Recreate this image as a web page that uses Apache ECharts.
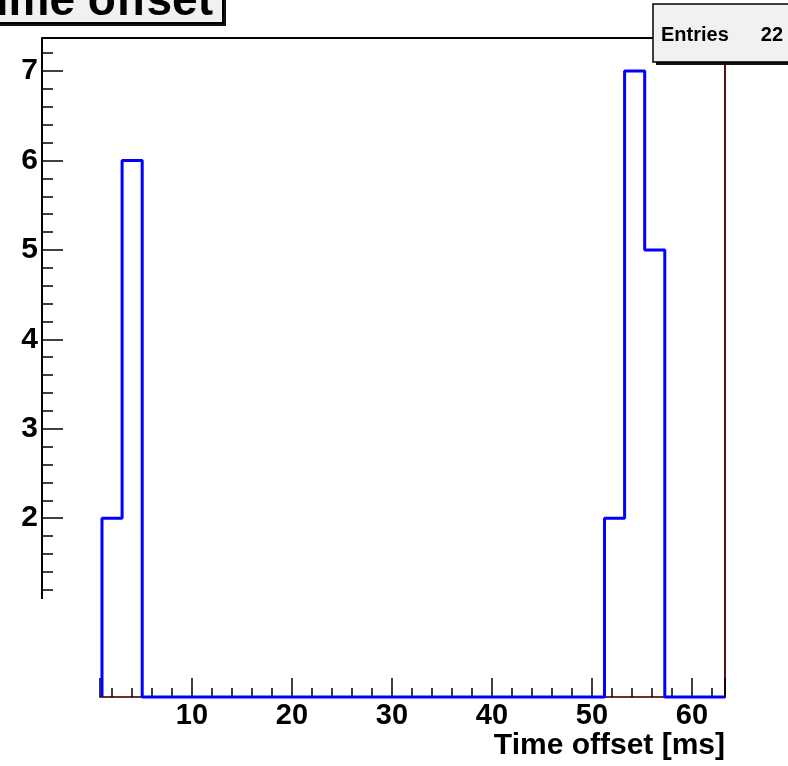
<!DOCTYPE html>
<html>
<head>
<meta charset="utf-8">
<script src="https://cdn.jsdelivr.net/npm/echarts@6/dist/echarts.min.js"></script>
<style>
html, body { margin: 0; padding: 0; background: #fff; }
#chart { width: 788px; height: 766px; }
</style>
</head>
<body>
<div id="chart"></div>
<script>
// histogram definition (ROOT style TH1, 31 bins)
const xLow = 1.0
const binWidth = 2.01
const counts = [2, 6, 0, 0, 0, 0, 0, 0, 0, 0, 0, 0, 0, 0, 0, 0, 0, 0, 0, 0, 0, 0, 0, 0, 0, 2, 7, 5, 0, 0, 0]
const entries = 22

const xRange = [0.8, 63.3]
const yRange = [0, 7.37]
const titleText = 'Time offset'
const xTitle = 'Time offset [ms]'

const font = '"Liberation Sans", Arial, sans-serif'

// step outline through bin edges
const outline = []
for (let i = 0; i < counts.length; i++) {
	const lo = xLow + i * binWidth
	const hi = lo + binWidth
	if (i === 0) outline.push([lo, 0])
	outline.push([lo, counts[i]])
	outline.push([hi, counts[i]])
	if (i === counts.length - 1) outline.push([hi, 0])
}

// ROOT-like pave: dark shadow rect + filled box with border
function pave(x, y, w, h, lineWidth) {
	return [
		{ type: 'rect', z: 110, shape: { x: x + 3, y: y + 3, width: w, height: h }, style: { fill: '#111' } },
		{ type: 'rect', z: 111, shape: { x: x, y: y, width: w, height: h }, style: { fill: '#f1f1f1', stroke: '#000', lineWidth: lineWidth } }
	]
}

const chart = echarts.init(document.getElementById('chart'))

const option = {
	backgroundColor: '#fff',
	animation: false,
	grid: { left: 100, right: 63, top: 38, bottom: 69 },
	xAxis: {
		type: 'value',
		min: xRange[0],
		max: xRange[1],
		splitNumber: 6,
		name: xTitle,
		nameLocation: 'end',
		nameGap: 0,
		nameTextStyle: {
			fontFamily: font, fontWeight: 'bold', fontSize: 30, color: '#000',
			align: 'right', verticalAlign: 'top', padding: [34, 0, 0, 0]
		},
		axisLine: { lineStyle: { color: '#6a3030', width: 2 } },
		axisTick: { inside: true, length: 19, lineStyle: { color: '#000', width: 1.5 } },
		minorTick: { show: true, splitNumber: 5, length: 9, lineStyle: { color: '#000', width: 1.5 } },
		axisLabel: {
			fontFamily: font, fontWeight: 'bold', fontSize: 29, color: '#000', margin: 4,
			showMinLabel: false, showMaxLabel: false
		},
		splitLine: { show: false }
	},
	yAxis: [{
		type: 'value',
		min: yRange[0],
		max: yRange[1],
		interval: 1,
		offset: 58,
		axisLine: { show: true, lineStyle: { color: '#000', width: 2 } },
		axisTick: { inside: true, length: 21, lineStyle: { color: '#000', width: 1.5 } },
		minorTick: { show: true, splitNumber: 5, length: 11, lineStyle: { color: '#000', width: 1.5 } },
		axisLabel: {
			fontFamily: font, fontWeight: 'bold', fontSize: 30, color: '#000', margin: 4,
			showMaxLabel: false,
			formatter: v => (v >= 2 ? String(v) : '')
		},
		splitLine: { show: false }
	}, {
		type: 'value',
		position: 'right',
		min: yRange[0],
		max: yRange[1],
		axisLine: { show: true, lineStyle: { color: '#5a1010', width: 2 } },
		axisTick: { show: false },
		axisLabel: { show: false },
		splitLine: { show: false }
	}],
	series: [{
		type: 'line',
		data: outline,
		showSymbol: false,
		clip: false,
		lineStyle: { color: '#0000ff', width: 3 },
		itemStyle: { color: '#0000ff' },
		z: 5
	}],
	graphic: [
		// y axis is cut short in the original picture
		{ type: 'rect', z: 100, shape: { x: 28, y: 599, width: 44, height: 104 }, style: { fill: '#fff' } },
		// top frame line
		{ type: 'line', z: 50, shape: { x1: 42, y1: 38, x2: 655, y2: 38 }, style: { stroke: '#000', lineWidth: 2 } },
		// title box
		...pave(-10, -40, 233, 63, 2),
		{
			type: 'text', z: 112, x: 213, y: 2,
			style: { text: titleText, font: 'bold 46px ' + font, fill: '#000', align: 'right', verticalAlign: 'middle' }
		},
		// stats box
		...pave(653, 4, 160, 58, 1.5),
		{
			type: 'text', z: 112, x: 661, y: 35,
			style: { text: 'Entries', font: 'bold 20px ' + font, fill: '#000', align: 'left', verticalAlign: 'middle' }
		},
		{
			type: 'text', z: 112, x: 783, y: 35,
			style: { text: String(entries), font: 'bold 20px ' + font, fill: '#000', align: 'right', verticalAlign: 'middle' }
		}
	]
}

chart.setOption(option)
</script>
</body>
</html>
